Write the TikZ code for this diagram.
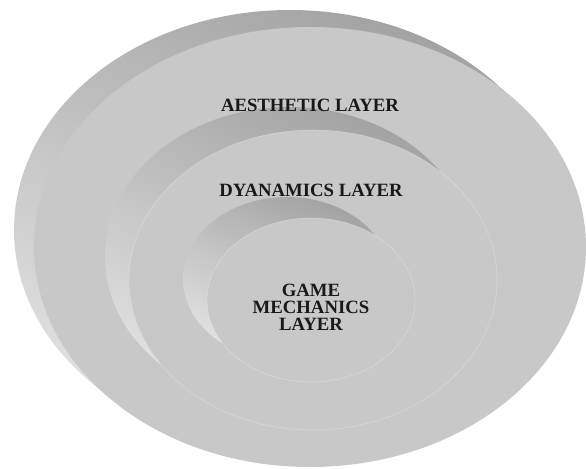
\documentclass[tikz,border=0pt]{standalone}
\usepackage{fontspec}
\setmainfont{Liberation Serif}
\usepackage{tikz}
\usetikzlibrary{shapes}
\definecolor{facegray}{HTML}{C8C8C8}
\definecolor{rimdark}{HTML}{A2A2A2}
\definecolor{rimlight}{HTML}{E2E2E2}
\tikzset{
  every picture/.style={line join=round, line cap=round},
  rim/.style={top color=rimdark, bottom color=rimlight, shading angle=-25},
  face/.style={fill=facegray},
  rimedge/.style={draw=white, draw opacity=0.3, line width=0.5pt},
  layertext/.style={font=\fontsize{16}{14.5}\selectfont\bfseries, align=center, text=black!90},
}

\begin{document}
\begin{tikzpicture}[x=0.03cm,y=-0.03cm]
\useasboundingbox (0,0) rectangle (586,468);
\coordinate (outer) at (310,247);
\coordinate (middle) at (313,280);
\coordinate (inner) at (311,300);
% outer disc
\shade[rim] ([shift={(-20,-17)}]outer) ellipse [x radius=276,y radius=220];
\fill[face] (outer) ellipse [x radius=276,y radius=220];
% middle disc
\shade[rim] ([shift={(-24,-23)}]middle) ellipse [x radius=184,y radius=150];
\path[face,rimedge] (middle) ellipse [x radius=184,y radius=150];
% inner disc
\shade[rim] ([shift={(-24,-21)}]inner) ellipse [x radius=104,y radius=82];
\path[face,rimedge] (inner) ellipse [x radius=104,y radius=82];
\node[layertext,anchor=base] (aesthetic) at (310,111) {AESTHETIC LAYER};
\node[layertext,anchor=base] (dynamics) at (311,196) {DYANAMICS LAYER};
\node[layertext] (mechanics) at (311,307) {GAME\\MECHANICS\\LAYER};
\end{tikzpicture}
\end{document}
